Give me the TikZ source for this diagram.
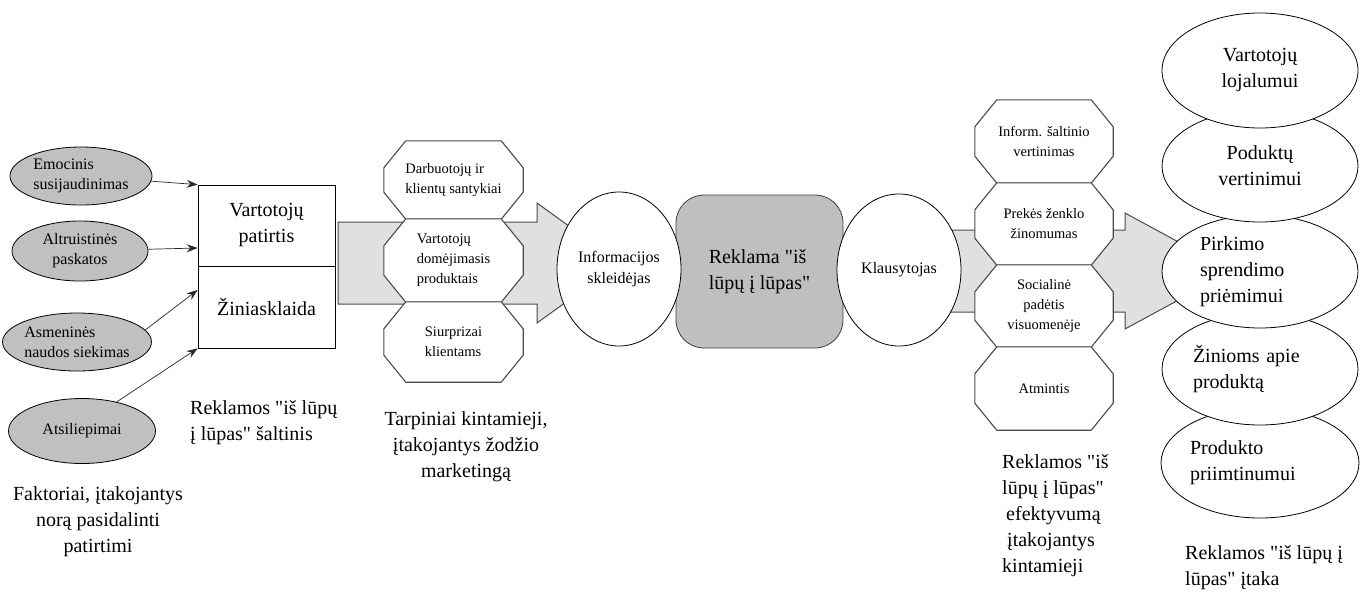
\documentclass[tikz,border=0pt]{standalone}
\usepackage{fontspec}
\setmainfont{Liberation Serif}[Ligatures=TeXOff]
\usetikzlibrary{shapes.geometric,arrows.meta}

\pgfdeclarelayer{back}
\pgfdeclarelayer{mid}
\pgfsetlayers{back,mid,main}

\definecolor{ovalgray}{HTML}{C0C0C0}
\definecolor{boxgray}{HTML}{BFBFBF}
\definecolor{flowgray}{HTML}{E0E0E0}
\definecolor{edgegray}{HTML}{4A4A4A}

\tikzset{
  factor/.style={ellipse, draw=black, line width=0.8pt, fill=ovalgray, inner sep=0pt,
    font=\fontsize{16}{20}\selectfont},
  srcpart/.style={rectangle, draw=black, line width=0.8pt, minimum width=137pt,
    inner sep=0pt, align=center, font=\fontsize{20}{26}\selectfont},
  octtext/.style={rectangle, inner sep=0pt, align=left, font=\fontsize{14.5}{20}\selectfont},
  actor/.style={ellipse, draw=black, line width=0.8pt, fill=white, inner sep=0pt,
    align=center, minimum width=124pt, minimum height=154pt, font=\fontsize{16}{21}\selectfont},
  effect/.style={ellipse, draw=black, line width=0.8pt, fill=white, inner sep=0pt,
    minimum width=196pt, minimum height=113pt, font=\fontsize{20}{26}\selectfont},
  caption/.style={inner sep=0pt, font=\fontsize{20}{26}\selectfont},
  feed/.style={draw=black!85, line width=0.7pt, -{Stealth[length=11pt,width=8pt,inset=4pt]}},
  flow/.style={draw=edgegray, line width=1pt, fill=flowgray, line join=miter},
  octline/.style={draw=edgegray, line width=1.1pt, fill=white},
}

% chamfered outline drawn round the text node #1
\newcommand\octagon[1]{%
  \draw[octline] ([xshift=22pt]#1.north west) -- ([xshift=-22pt]#1.north east)
    -- ([yshift=-27pt]#1.north east) -- ([yshift=27pt]#1.south east)
    -- ([xshift=-22pt]#1.south east) -- ([xshift=22pt]#1.south west)
    -- ([yshift=27pt]#1.south west) -- ([yshift=-27pt]#1.north west) -- cycle;}

\begin{document}
\begin{tikzpicture}[x=1pt, y=-1pt]
\useasboundingbox (0,0) rectangle (1360,595);

% factors that drive sharing
\node[factor, minimum width=142pt, minimum height=58pt, align=left] (f1) at (81,176) {Emocinis\\susijaudinimas};
\node[factor, minimum width=136pt, minimum height=60pt, align=center] (f2) at (80,251) {Altruistinės\\paskatos};
\node[factor, minimum width=140pt, minimum height=58pt, align=left] (f3) at (77,342) {Asmeninės\\naudos siekimas};
\node[factor, minimum width=147pt, minimum height=65pt] (f4) at (82,431) {Atsiliepimai};

% source of word of mouth
\node[srcpart, minimum height=81pt] (exp) at (266.5,225.5) {Vartotojų\\patirtis};
\node[srcpart, minimum height=82pt] (media) at (266.5,307) {Žiniasklaida};

\draw[feed] (f1) -- (exp.north west);
\draw[feed] (f2) -- ([yshift=-22.5pt]exp.west);
\draw[feed] (f3.10) -- ([yshift=17pt]media.west);
\draw[feed] (f4.40) -- (media.south west);

% intermediate variables
\node[octtext, minimum width=139pt, minimum height=78pt] (o1) at (453.5,180) {Darbuotojų ir\\klientų santykiai};
\node[octtext, minimum width=139pt, minimum height=83pt] (o2) at (453.5,260.5) {Vartotojų\\domėjimasis\\produktais};
\node[octtext, minimum width=139pt, minimum height=80pt] (o3) at (453.5,342) {Siurprizai\\klientams};

% word of mouth itself
\node[rectangle, rounded corners=28pt, draw=black!75, line width=0.8pt, fill=boxgray,
  minimum width=167pt, minimum height=153pt, align=left, inner sep=0pt,
  font=\fontsize{20}{26}\selectfont] (wom) at (759.5,271.5) {Reklama "iš\\lūpų į lūpas"};
\node[actor] (sender) at (619,269) {Informacijos\\skleidėjas};
\node[actor, minimum height=152pt] (listener) at (899,270) {Klausytojas};

% effectiveness variables
\node[octtext, align=center, minimum width=138pt, minimum height=83pt] (r1) at (1044,141.5) {Inform. šaltinio\\vertinimas};
\node[octtext, align=center, minimum width=138pt, minimum height=82pt] (r2) at (1044,224) {Prekės ženklo\\žinomumas};
\node[octtext, align=center, minimum width=138pt, minimum height=82pt] (r3) at (1044,306) {Socialinė\\padėtis\\visuomenėje};
\node[octtext, align=center, minimum width=138pt, minimum height=83pt] (r4) at (1044,388.5) {Atmintis};

% outcomes, stacked from the bottom up
\node[effect, minimum height=110pt, text width=140pt, align=left] (e5) at (1260,463) {Produkto\\priimtinumui};
\node[effect, minimum height=112pt, text width=134pt, align=left] (e4) at (1260,369) {Žinioms apie\\produktą};
\node[effect, text width=120pt, align=left] (e3) at (1260,271.5) {Pirkimo\\sprendimo\\priėmimui};
\node[effect, minimum height=112pt, align=center] (e2) at (1260,166) {Poduktų\\vertinimui};
\node[effect, minimum height=115pt, align=center] (e1) at (1260,70.5) {Vartotojų\\lojalumui};

% block arrows and chamfered frames
\begin{pgfonlayer}{back}
\draw[flow] (338,222) -- (537,222) -- (537,203) -- (620,263) -- (537,323) -- (537,304) -- (338,304) -- cycle;
\draw[flow] (940,230) -- (1125,230) -- (1125,213) -- (1232,271) -- (1125,329) -- (1125,312) -- (940,312) -- cycle;
\end{pgfonlayer}
\begin{pgfonlayer}{mid}
\octagon{o1}\octagon{o2}\octagon{o3}
\octagon{r1}\octagon{r2}\octagon{r3}\octagon{r4}
\end{pgfonlayer}

% column captions
\node[caption, align=center] (capF) at (98,522) {Faktoriai, įtakojantys\\norą pasidalinti\\patirtimi};
\node[caption, align=left, anchor=west] (capS) at (190,423) {Reklamos "iš lūpų\\į lūpas" šaltinis};
\node[caption, align=center] (capT) at (466,447) {Tarpiniai kintamieji,\\įtakojantys žodžio\\marketingą};
\node[caption, align=left, anchor=west] (capE) at (1002,516) {Reklamos "iš\\lūpų į lūpas"\\\hspace*{4pt}efektyvumą\\\hspace*{5pt}įtakojantys\\kintamieji};
\node[caption, align=left, anchor=west] (capI) at (1185,568) {Reklamos "iš lūpų į\\lūpas" įtaka};
\end{tikzpicture}
\end{document}
